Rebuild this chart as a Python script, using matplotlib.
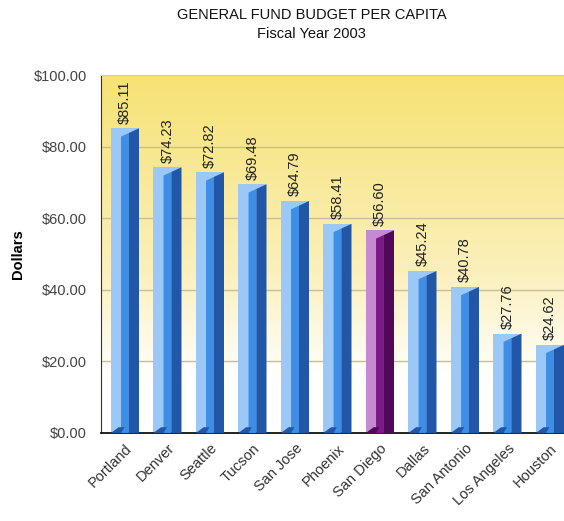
import numpy as np
import matplotlib.pyplot as plt
from matplotlib.patches import Polygon
from matplotlib.colors import LinearSegmentedColormap

cities = ['Portland', 'Denver', 'Seattle', 'Tucson', 'San Jose', 'Phoenix',
          'San Diego', 'Dallas', 'San Antonio', 'Los Angeles', 'Houston']
budget = [85.11, 74.23, 72.82, 69.48, 64.79, 58.41, 56.60, 45.24, 40.78, 27.76, 24.62]
highlight = 'San Diego'

plt.rcParams['font.family'] = ['Liberation Sans', 'DejaVu Sans']

blue = ('#9cc8f8', '#3f8ee6', '#2257a8')
purple = ('#c68ad2', '#7a1a84', '#520858')

fig = plt.figure(figsize=(5.64, 5.21), dpi=100)
ax = fig.add_axes([0.179, 0.169, 0.821, 0.687])

xmin, xmax = -0.565, 10.33
ax.set_xlim(xmin, xmax)
ax.set_ylim(0, 100)

# yellow-to-white background
grad = LinearSegmentedColormap.from_list(
    'bg', [(0, '#ffffff'), (0.15, '#ffffff'), (0.45, '#fbf0bc'), (1.0, '#f6e274')])
ax.imshow(np.linspace(0, 1, 256).reshape(-1, 1), cmap=grad, origin='lower',
          extent=[xmin, xmax, 0, 100], aspect='auto', zorder=0)

for yv in [20, 40, 60, 80]:
    ax.axhline(yv, color='#c9bc9a', lw=1.0, zorder=1)

w = 0.66
cut = 2.3   # depth of the bevel on the top, in dollars
for i, (city, v) in enumerate(zip(cities, budget)):
    light, mid, dark = purple if city == highlight else blue
    x0 = i - w / 2
    x1 = i + w / 2
    xa = x0 + w * 0.36
    xb = x0 + w * 0.64
    yb = v - cut * (x1 - xb) / (x1 - xa)
    ax.bar(i, v, width=w, color=light, zorder=2)
    ax.add_patch(Polygon([(xa, 0), (xb, 0), (xb, yb), (xa, v - cut)],
                         closed=True, color=mid, lw=0, zorder=3))
    ax.add_patch(Polygon([(xb, 0), (x1, 0), (x1, v), (xb, yb)],
                         closed=True, color=dark, lw=0, zorder=3))
    ax.add_patch(Polygon([(x0, 0), (xa, 0), (xa + 0.08, 1.6), (x0 + 0.18, 1.6)],
                         closed=True, color=dark, lw=0, zorder=3))
    ax.text(i, v + 1.3, '${:.2f}'.format(v), rotation=90, ha='center', va='bottom',
            fontsize=10.5, color='#222222', zorder=4)

ax.set_xticks(range(len(cities)))
ax.set_xticklabels(cities, rotation=45, ha='right', rotation_mode='anchor',
                   fontsize=10.5, color='#333333')
ax.tick_params(axis='x', length=0, pad=6)

ax.set_yticks([0, 20, 40, 60, 80, 100])
ax.set_yticklabels(['${:.2f}'.format(t) for t in [0, 20, 40, 60, 80, 100]],
                   fontsize=10.5, color='#444444')
ax.tick_params(axis='y', length=0, pad=10)
ax.set_ylabel('Dollars', fontsize=10.5, fontweight='bold', labelpad=6)

ax.spines['right'].set_visible(False)
ax.spines['top'].set_color('#d8c8b8')
ax.spines['left'].set_color('#333333')
ax.spines['bottom'].set_color('#111111')
ax.spines['bottom'].set_linewidth(1.3)

fig.text(0.552, 0.972, 'GENERAL FUND BUDGET PER CAPITA', ha='center', va='center',
         fontsize=10.5, color='#111111')
fig.text(0.552, 0.934, 'Fiscal Year 2003', ha='center', va='center',
         fontsize=10.5, color='#111111')

fig.savefig('out.png', dpi=100)
